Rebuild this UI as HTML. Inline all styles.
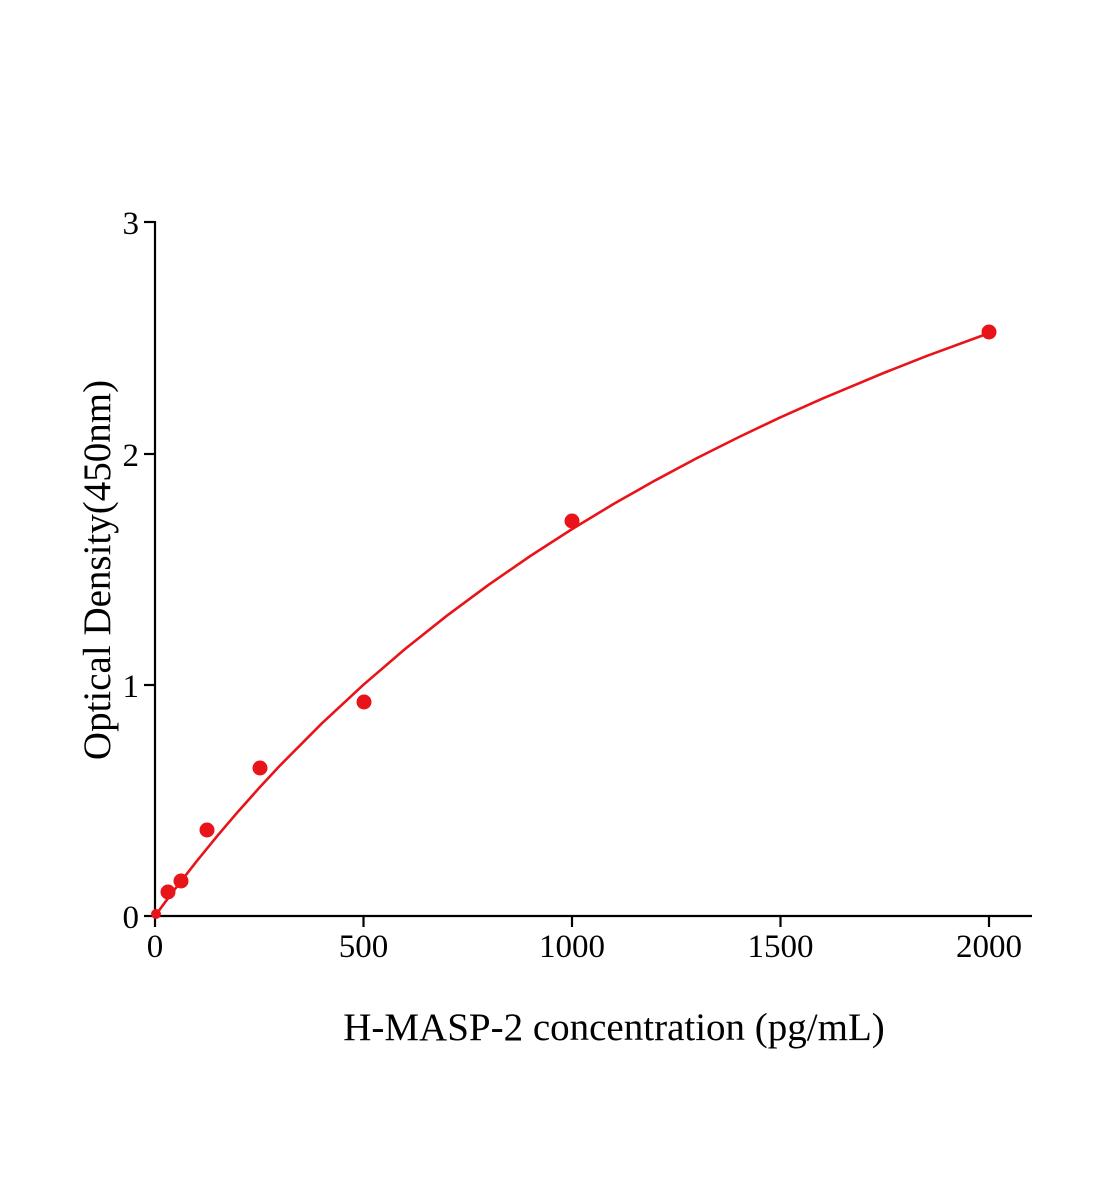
<!DOCTYPE html>
<html><head><meta charset="utf-8"><style>
html,body{margin:0;padding:0;background:#fff;}
svg{display:block;}
text{font-family:"Liberation Serif",serif;fill:#000;}
</style></head><body>
<svg width="1104" height="1200" viewBox="0 0 1104 1200" xmlns="http://www.w3.org/2000/svg">
<g stroke="#000" stroke-width="2.2" fill="none">
<line x1="155" y1="221" x2="155" y2="917"/>
<line x1="154" y1="916" x2="1032" y2="916"/>
<line x1="144" y1="222" x2="155" y2="222"/>
<line x1="144" y1="454" x2="155" y2="454"/>
<line x1="144" y1="685" x2="155" y2="685"/>
<line x1="144" y1="916" x2="155" y2="916"/>
<line x1="155" y1="916" x2="155" y2="927"/>
<line x1="363.5" y1="916" x2="363.5" y2="927"/>
<line x1="572" y1="916" x2="572" y2="927"/>
<line x1="780.5" y1="916" x2="780.5" y2="927"/>
<line x1="989" y1="916" x2="989" y2="927"/>
</g>
<g font-size="33" text-anchor="end">
<text x="139" y="234">3</text>
<text x="139" y="466">2</text>
<text x="139" y="697">1</text>
<text x="139" y="928">0</text>
</g>
<g font-size="33" text-anchor="middle">
<text x="155" y="957">0</text>
<text x="363.5" y="957">500</text>
<text x="572" y="957">1000</text>
<text x="780.5" y="957">1500</text>
<text x="989" y="957">2000</text>
</g>
<text x="614" y="1040" font-size="39" text-anchor="middle">H-MASP-2 concentration (pg/mL)</text>
<text transform="translate(110,570) rotate(-90)" font-size="39" text-anchor="middle">Optical Density(450nm)</text>
<polyline fill="none" stroke="#e8141a" stroke-width="2.6" stroke-linejoin="round" points="155,916 160,909.1 165.4,901.8 175.9,887.9 196.7,861.2 217.6,835.6 238.4,811.2 259.3,787.8 280.1,765.4 321.8,723.4 363.5,684.7 405.2,648.9 446.9,615.7 488.6,584.8 530.3,556 572,529.1 613.7,503.9 655.4,480.3 697.1,458 738.8,437.1 780.5,417.3 822.2,398.7 884.8,372.5 926.5,356.1 989,333.1"/>
<g fill="#e8141a">
<circle cx="156" cy="914" r="5"/>
<circle cx="168" cy="892" r="7.5"/>
<circle cx="181" cy="881" r="7.5"/>
<circle cx="207" cy="830" r="7.5"/>
<circle cx="260" cy="768" r="7.5"/>
<circle cx="364" cy="702" r="7.5"/>
<circle cx="572" cy="521" r="7.5"/>
<circle cx="989" cy="332" r="7.5"/>
</g>
</svg>
</body></html>
